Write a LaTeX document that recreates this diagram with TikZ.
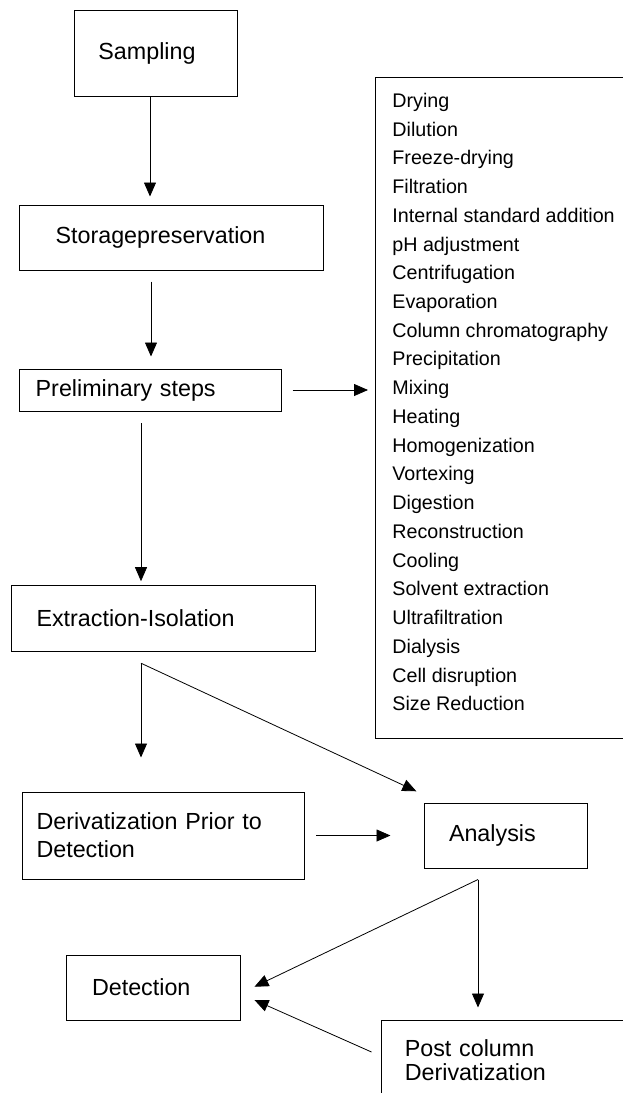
\documentclass[tikz,border=0pt]{standalone}
\usepackage{fontspec}
\setmainfont{Liberation Sans}
\usetikzlibrary{arrows.meta}
\tikzset{
  stage/.style={draw, line width=1pt, align=left, inner ysep=0pt,
    font=\fontsize{23.3}{28.3}\selectfont},
  listtext/.style={anchor=base west, inner sep=0pt,
    font=\fontsize{19.7}{24}\selectfont},
}
\begin{document}
\begin{tikzpicture}[x=1pt,y=-1pt,line width=0.8pt,>={Triangle[length=14pt,width=12pt]}]
  \useasboundingbox (0,0) rectangle (622,1093);
  % main stages
  \node[stage, minimum height=86pt, text width=114.8pt, inner xsep=23.8pt] (sampling) at (155.8,53.7) {Sampling};
  \node[stage, minimum height=65pt, text width=232.4pt, inner xsep=35.8pt] (storage) at (171.8,237.5) {Storagepreservation};
  \node[stage, minimum height=42pt, text width=229.4pt, inner xsep=15.9pt] (prelim) at (150.4,390) {Preliminary steps};
  \node[stage, minimum height=65.3pt, text width=253.5pt, inner xsep=25.5pt] (extract) at (163.25,618.35) {Extraction-Isolation};
  \node[stage, minimum height=87pt, text width=254.4pt, inner xsep=13.9pt] (deriv) at (163.7,835.5) {Derivatization Prior to\\Detection};
  \node[stage, minimum height=65pt, text width=113pt, inner xsep=25pt] (analysis) at (505.5,835.5) {Analysis};
  \node[stage, minimum height=65pt, text width=123.6pt, inner xsep=25.3pt] (detection) at (153.8,987.5) {Detection};
  \node[stage, minimum height=80pt, text width=253.8pt, inner xsep=23.1pt,
    font=\fontsize{23.3}{23.7}\selectfont] (postcol) at (531.7,1060) {Post column\\Derivatization};
  % list of preliminary steps
  \node[draw, line width=1pt, anchor=north west, minimum width=300pt, minimum height=661.3pt, inner sep=0pt] (methods) at (375,76.7) {};
  \foreach \txt [count=\i] in {Drying, Dilution, Freeze-drying, Filtration,
      Internal standard addition, pH adjustment, Centrifugation, Evaporation,
      Column chromatography, Precipitation, Mixing, Heating, Homogenization,
      Vortexing, Digestion, Reconstruction, Cooling, Solvent extraction,
      Ultrafiltration, Dialysis, Cell disruption, Size Reduction}
    \node[listtext] (item\i) at (392,{107.4+28.73*(\i-1)}) {\txt};
  % arrows down the left
  \draw[->, shorten >=8pt] ([xshift=-5.8pt]sampling.south) -- ([xshift=-21.8pt]storage.north);
  \draw[->, shorten <=11pt, shorten >=12pt] ([xshift=-20.8pt]storage.south) -- ([xshift=0.6pt]prelim.north);
  \draw[->, shorten <=11.7pt, shorten >=4pt] ([xshift=-9.4pt]prelim.south) -- ([xshift=-22.25pt]extract.north);
  \draw[->, shorten <=11pt, shorten >=7pt] (prelim.east) -- (prelim.east -| methods.west);
  % after extraction
  \coordinate (fork) at ([xshift=-22.25pt,yshift=-11.7pt]extract.south);
  \draw[->, shorten >=34pt] (fork) -- (fork |- deriv.north);
  \draw[->, shorten >=26.6pt] (fork) -- ([xshift=17pt]analysis.north west);
  \draw[->, shorten <=10.7pt, shorten >=33pt] (deriv.east) -- (analysis.west);
  % after analysis
  \coordinate (split) at ([xshift=-27.5pt,yshift=-11pt]analysis.south);
  \draw[->, shorten >=12pt] (split) -- (split |- postcol.north);
  \draw[->, shorten >=14.5pt] (split) -- ([yshift=-5.5pt]detection.east);
  \draw[->, shorten >=14.3pt] ([xshift=-9.7pt,yshift=8pt]postcol.west) -- ([yshift=-6.7pt]detection.east);
\end{tikzpicture}
\end{document}
